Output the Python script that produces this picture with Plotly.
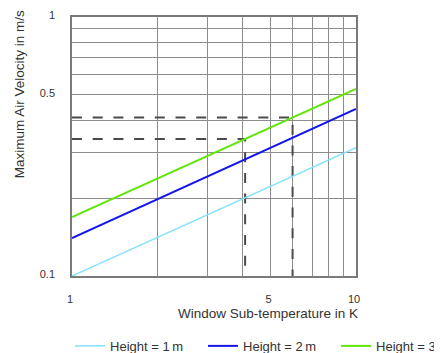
import plotly.graph_objects as go

# Data
delta_t = [1, 10]                      # Window sub-temperature in K (line endpoints)
v_h1 = [0.100, 0.313]                  # Height = 1 m
v_h2 = [0.140, 0.442]                  # Height = 2 m
v_h3 = [0.169, 0.528]                  # Height = 3 m
series_names = ["Height = 1\u2009m", "Height = 2\u2009m", "Height = 3\u2009m"]
series_colors = ["#84e2ff", "#1414ec", "#62e60a"]

# Example reading lines (dashed)
ex1_x = [1, 4.07, 4.07]
ex1_y = [0.338, 0.338, 0.1]
ex2_x = [1, 5.98, 5.98]
ex2_y = [0.409, 0.409, 0.1]

x_ticks = [1, 2, 3, 4, 5, 6, 7, 8, 9, 10]
x_ticktext = ["1", "", "", "", "5", "", "", "", "", "10"]
y_ticks = [0.1, 0.2, 0.3, 0.4, 0.5, 0.6, 0.7, 0.8, 0.9, 1]
y_ticktext = ["0.1", "", "", "", "0.5", "", "", "", "", "1"]

FONT = "Liberation Sans, Arial, sans-serif"
TXT = "#333333"

fig = go.Figure()
for xs, ys in [(ex1_x, ex1_y), (ex2_x, ex2_y)]:
    fig.add_trace(go.Scatter(x=xs, y=ys, mode="lines", showlegend=False,
                             line=dict(color="#4a4a4a", width=2, dash="10px,10.7px"),
                             hoverinfo="skip"))
for ys, name, col, w in zip([v_h1, v_h2, v_h3], series_names, series_colors, [1.5, 2, 2]):
    fig.add_trace(go.Scatter(x=delta_t, y=ys, mode="lines", name=name,
                             line=dict(color=col, width=w)))

axis_common = dict(type="log", showgrid=True, gridcolor="#8c8c8c", gridwidth=1,
                   showline=True, linecolor="#7a7a7a", linewidth=1.5, mirror=True,
                   zeroline=False, ticks="", automargin=False,
                   tickfont=dict(family=FONT, size=11, color=TXT))

# page body has an 8px margin; figure is offset accordingly
fig.update_layout(
    width=600, height=353,
    margin=dict(l=64, r=252, t=9, b=85, autoexpand=False),
    paper_bgcolor="white", plot_bgcolor="white",
    font=dict(family=FONT, color=TXT),
    xaxis=dict(range=[0, 1], tickvals=x_ticks, ticktext=x_ticktext,
               ticklabelstandoff=12, ticklabelshift=-2, **axis_common),
    yaxis=dict(range=[-1, 0], tickvals=y_ticks, ticktext=y_ticktext,
               ticklabelstandoff=13, ticklabelshift=-2, **axis_common),
    legend=dict(orientation="h", x=1.398, xanchor="right", y=-0.27, yanchor="middle",
                font=dict(family=FONT, size=13, color=TXT),
                entrywidth=88, entrywidthmode="pixels", bgcolor="rgba(0,0,0,0)"),
    annotations=[
        dict(text="Window Sub-temperature in K", xref="paper", yref="paper",
             x=1.0, xshift=4, y=-0.143, xanchor="right", yanchor="middle", showarrow=False,
             font=dict(family=FONT, size=13.5, color=TXT)),
        dict(text="Maximum Air Velocity in m/s", xref="paper", yref="paper",
             x=0, xshift=-53, y=1.034, xanchor="center", yanchor="top", textangle=-90,
             showarrow=False, font=dict(family=FONT, size=13.5, color=TXT)),
    ],
)

fig.write_html("out.html")
